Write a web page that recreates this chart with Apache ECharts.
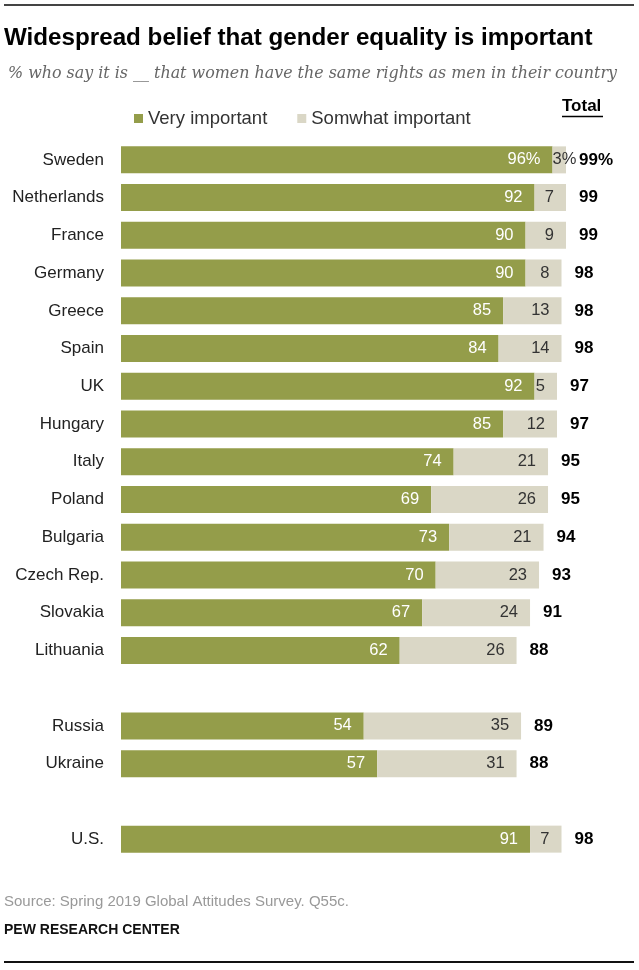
<!DOCTYPE html>
<html>
<head>
<meta charset="utf-8">
<script src="https://cdn.jsdelivr.net/npm/echarts@6/dist/echarts.min.js"></script>
<style>
html,body{margin:0;padding:0;background:#fff;}
#chart{width:639px;height:970px;}
</style>
</head>
<body>
<div id="chart"></div>
<script>
const countries = ['Sweden','Netherlands','France','Germany','Greece','Spain','UK','Hungary','Italy','Poland','Bulgaria','Czech Rep.','Slovakia','Lithuania',' ','Russia','Ukraine','  ','U.S.'];
const veryImportant = [96,92,90,90,85,84,92,85,74,69,73,70,67,62,null,54,57,null,91];
const somewhatImportant = [3,7,9,8,13,14,5,12,21,26,21,23,24,26,null,35,31,null,7];
const totals = [99,99,99,98,98,98,97,97,95,95,94,93,91,88,null,89,88,null,98];

const GREEN = '#949D4A';
const GREY = '#DAD7C6';
const FONT = 'Liberation Sans, Arial, sans-serif';

const veryData = veryImportant.map((v, i) => i === 0
  ? { value: v, label: { formatter: v + '%' } }
  : (v == null ? '-' : v));
const someData = somewhatImportant.map((v, i) => i === 0
  ? { value: v, label: { formatter: v + '%', position: 'insideLeft', distance: 0 } }
  : (v == null ? '-' : v));
const totalData = totals.map(t => t == null ? '-' : 0);

const chart = echarts.init(document.getElementById('chart'), null, { renderer: 'canvas' });
chart.setOption({
  animation: false,
  backgroundColor: '#fff',
  textStyle: { fontFamily: FONT },
  grid: { left: 121, right: 68.5, top: 141, bottom: 112, containLabel: false },
  legend: {
    data: ['Very important', 'Somwhat important'],
    left: 129, top: 104,
    icon: 'rect', itemWidth: 9, itemHeight: 9, itemGap: 30,
    textStyle: { fontSize: 18.5, color: '#333', fontFamily: FONT }
  },
  xAxis: { type: 'value', min: 0, max: 100, show: false },
  yAxis: {
    type: 'category', inverse: true, data: countries,
    axisLine: { show: false }, axisTick: { show: false },
    axisLabel: { color: '#222', fontSize: 17, margin: 17, fontFamily: FONT }
  },
  series: [
    {
      name: 'Very important', type: 'bar', stack: 'a', barWidth: 27,
      itemStyle: { color: GREEN },
      label: { show: true, position: 'insideRight', distance: 12, color: '#fff', fontSize: 16.5, fontFamily: FONT },
      data: veryData
    },
    {
      name: 'Somwhat important', type: 'bar', stack: 'a', barWidth: 27,
      itemStyle: { color: GREY },
      label: { show: true, position: 'insideRight', distance: 12, color: '#333', fontSize: 16.5, fontFamily: FONT },
      data: someData
    },
    {
      name: 'Total', type: 'bar', stack: 'a', barWidth: 27,
      itemStyle: { color: 'transparent' },
      label: {
        show: true, position: 'right', distance: 13, color: '#000', fontSize: 17, fontWeight: 'bold', fontFamily: FONT,
        formatter: p => totals[p.dataIndex] + (p.dataIndex === 0 ? '%' : '')
      },
      data: totalData
    }
  ],
  graphic: [
    { type: 'line', shape: { x1: 4, y1: 5, x2: 634, y2: 5 }, style: { stroke: '#444', lineWidth: 2 } },
    { type: 'text', left: 4, top: 26, style: { text: 'Widespread belief that gender equality is important', font: 'bold 24.2px ' + FONT, fill: '#000' } },
    { type: 'text', left: 8, top: 66, style: { text: '% who say it is __ that women have the same rights as men in their country', font: 'italic 15.9px DejaVu Serif, serif', fill: '#666' } },
    { type: 'text', left: 562, top: 98, style: { text: 'Total', font: 'bold 17px ' + FONT, fill: '#000' } },
    { type: 'line', shape: { x1: 562, y1: 116.5, x2: 603, y2: 116.5 }, style: { stroke: '#000', lineWidth: 1.5 } },
    { type: 'text', left: 4, top: 894, style: { text: 'Source: Spring 2019 Global Attitudes Survey. Q55c.', font: '15px ' + FONT, fill: '#999' } },
    { type: 'text', left: 4, top: 923, style: { text: 'PEW RESEARCH CENTER', font: 'bold 14px ' + FONT, fill: '#111' } },
    { type: 'line', shape: { x1: 4, y1: 962, x2: 634, y2: 962 }, style: { stroke: '#111', lineWidth: 2 } }
  ]
});
</script>
</body>
</html>
